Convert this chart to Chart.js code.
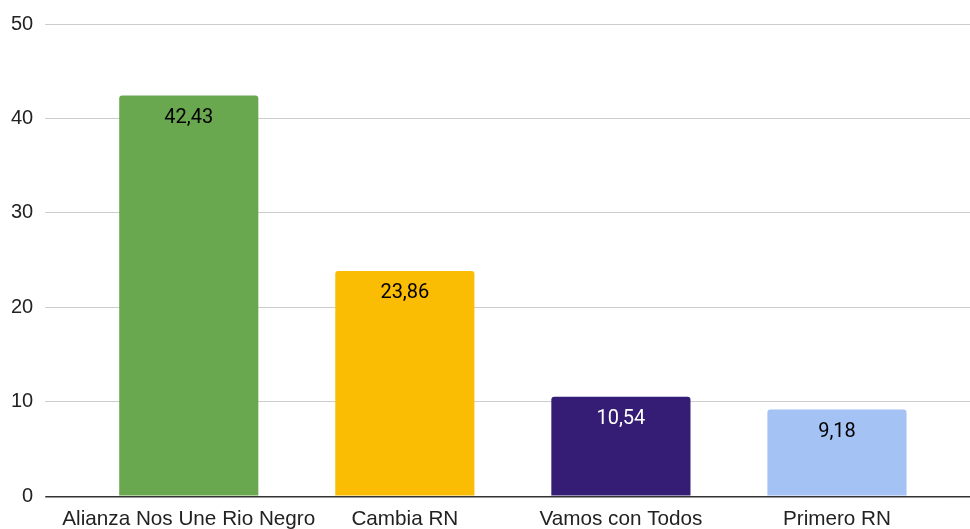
<!DOCTYPE html>
<html>
<head>
<meta charset="utf-8">
<script src="https://cdn.jsdelivr.net/npm/chart.js@4"></script>
<style>
  html, body { margin: 0; padding: 0; background: #fff; }
  #wrap { width: 970px; height: 529px; position: relative; }
</style>
</head>
<body>
<div id="wrap"><canvas id="votosChart"></canvas></div>
<script>
// datos del gráfico
const categorias = ['Alianza Nos Une Rio Negro', 'Cambia RN', 'Vamos con Todos', 'Primero RN'];
const porcentajes = [42.43, 23.86, 10.54, 9.18];
const colores = ['#6aa84f', '#fbbc04', '#351c75', '#a4c2f4'];
const coloresEtiqueta = ['#000000', '#000000', '#ffffff', '#000000'];
const ticksY = [0, 10, 20, 30, 40, 50];

const fuenteEjes = '"Liberation Sans", Arial, sans-serif';
const fuenteValores = 'Roboto, Arial, sans-serif';

// etiquetas de valor dentro de cada barra
const etiquetasBarras = {
    id: 'etiquetasBarras',
    afterDatasetsDraw(chart) {
        const ctx = chart.ctx;
        const meta = chart.getDatasetMeta(0);
        ctx.save();
        ctx.font = '20px ' + fuenteValores;
        ctx.textAlign = 'center';
        ctx.textBaseline = 'middle';
        meta.data.forEach((bar, i) => {
            ctx.fillStyle = coloresEtiqueta[i];
            const txt = porcentajes[i].toFixed(2).replace('.', ',');
            ctx.fillText(txt, bar.x, bar.y + 22);
        });
        ctx.restore();
    }
};

const colorLinea = (c) => (c.tick && c.tick.value === 0) ? '#333333' : '#cccccc';
const anchoLinea = (c) => (c.tick && c.tick.value === 0) ? 1.5 : 1;

new Chart(document.getElementById('votosChart'), {
    type: 'bar',
    data: {
        labels: categorias,
        datasets: [{
            data: porcentajes,
            backgroundColor: colores,
            borderRadius: { topLeft: 3, topRight: 3 },
            borderSkipped: 'bottom',
            categoryPercentage: 1,
            barPercentage: 0.644
        }]
    },
    options: {
        responsive: true,
        maintainAspectRatio: false,
        animation: false,
        // el padding de los ticks se cuenta dos veces en el ancho/alto del eje
        layout: { padding: { left: -1, right: 0, top: 12, bottom: -14 } },
        plugins: {
            legend: { display: false },
            tooltip: { enabled: false }
        },
        scales: {
            x: {
                grid: { display: false, drawTicks: false },
                border: { display: false },
                ticks: {
                    color: '#222222',
                    font: { family: fuenteEjes, size: 20.7, lineHeight: 1 },
                    padding: 13,
                    maxRotation: 0,
                    autoSkip: false
                }
            },
            y: {
                min: 0,
                max: 50,
                afterBuildTicks: (scale) => { scale.ticks = ticksY.map(v => ({ value: v })); },
                border: { display: false },
                grid: {
                    color: colorLinea,
                    tickColor: colorLinea,
                    tickLength: 35.5,
                    lineWidth: anchoLinea
                },
                ticks: {
                    color: '#222222',
                    font: { family: fuenteEjes, size: 20 },
                    padding: 12
                }
            },
            // eje derecho solo para prolongar las líneas de la grilla
            yDer: {
                position: 'right',
                min: 0,
                max: 50,
                afterBuildTicks: (scale) => { scale.ticks = ticksY.map(v => ({ value: v })); },
                border: { display: false },
                grid: {
                    drawOnChartArea: false,
                    color: colorLinea,
                    tickColor: colorLinea,
                    tickLength: 25,
                    lineWidth: anchoLinea
                },
                ticks: { display: false }
            }
        }
    },
    plugins: [etiquetasBarras]
});
</script>
</body>
</html>
